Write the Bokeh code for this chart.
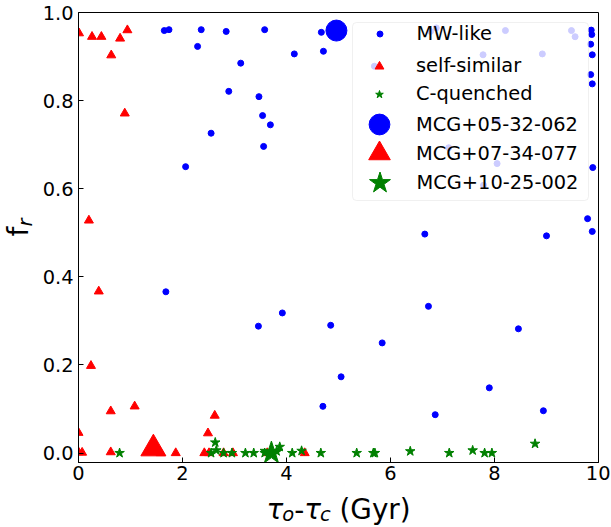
import math
from bokeh.plotting import figure
from bokeh.models import (Range1d, FixedTicker, Legend, LegendItem, BoxAnnotation, Label,
                          PrintfTickFormatter)
from bokeh.layouts import row, column
from bokeh.embed import file_html
from bokeh.resources import INLINE

# ---- data ----
mw_x = [1.65, 1.74, 2.36, 2.84, 3.58, 4.67, 2.29, 3.12, 4.15, 4.71, 2.89, 3.47, 3.54, 3.69, 2.55, 3.56, 2.06,
        9.86, 9.87, 9.85, 9.88, 9.85, 9.88, 9.89, 9.79, 9.88, 6.66, 9.00,
        6.77, 6.88, 8.21, 9.48, 9.55, 7.78, 8.92, 5.69, 8.05, 7.12, 8.05, 7.79,
        1.68, 3.46, 3.92, 4.85, 5.05, 4.70, 6.73, 5.84, 8.46, 7.90, 6.86, 8.94]
mw_y = [0.959, 0.961, 0.961, 0.957, 0.961, 0.955, 0.923, 0.885, 0.906, 0.912, 0.821, 0.809, 0.766, 0.745, 0.726, 0.696, 0.650,
        0.960, 0.950, 0.928, 0.904, 0.859, 0.838, 0.648, 0.532, 0.503, 0.497, 0.493,
        0.957, 0.965, 0.959, 0.959, 0.945, 0.904, 0.906, 0.878, 0.754, 0.693, 0.657, 0.608,
        0.366, 0.288, 0.318, 0.290, 0.173, 0.106, 0.333, 0.250, 0.282, 0.148, 0.087, 0.096]

ss_x = [0.01, 0.26, 0.44, 0.80, 0.94, 0.63, 0.89, 0.20, 0.39, 0.24, 1.08, 0.62, 2.62, 2.49, 0.00,
        0.00, 0.07, 0.62, 1.58, 1.87, 2.42, 2.51, 2.79, 2.97, 3.63, 4.35]
ss_y = [0.953, 0.945, 0.945, 0.941, 0.960, 0.903, 0.771, 0.528, 0.367, 0.198, 0.106, 0.095, 0.085, 0.045, 0.046,
        0.002, 0.001, 0.002, 0.0, 0.0, 0.0, 0.0, 0.0, 0.0, 0.0, 0.0]

cq_x = [0.79, 2.55, 2.63, 2.65, 2.79, 2.95, 3.21, 3.37, 3.58, 3.81, 3.87, 4.11, 4.29, 4.66,
        5.35, 5.67, 5.70, 6.38, 7.13, 7.58, 7.81, 7.95, 8.78]
cq_y = [0.0, 0.0, 0.024, 0.006, 0.0, 0.0, 0.0, 0.0, 0.0, 0.004, 0.014, 0.0, 0.005, 0.0,
        0.0, 0.0, 0.0, 0.004, 0.0, 0.006, 0.0, 0.0, 0.021]

gal_names = ["MCG+05-32-062", "MCG+07-34-077", "MCG+10-25-002"]
gal_x = [4.96, 1.44, 3.71]
gal_y = [0.959, 0.010, 0.0]

series_names = ["MW-like", "self-similar", "C-quenched"]
x_ticks = [0, 2, 4, 6, 8, 10]
y_ticks = [0.0, 0.2, 0.4, 0.6, 0.8, 1.0]

FONT = "DejaVu Sans"
FS = "19.4px"
BIG = "27.8px"
SUB = "19.5px"

YLAB_W = 38
MAIN_W = 572      # 40 + 520 + 12
MAIN_H = 488      # 12 + 450 + 26
FH = 450          # frame height

p = figure(width=MAIN_W, height=MAIN_H, output_backend="svg", toolbar_location=None,
           x_range=Range1d(0, 10), y_range=Range1d(-0.0215, 1.0),
           min_border_left=40, min_border_right=12, min_border_top=12, min_border_bottom=26)
p.xgrid.visible = False
p.ygrid.visible = False
p.outline_line_color = "black"
p.outline_line_width = 1

for ax, ticks, standoff in ((p.xaxis[0], x_ticks, 3), (p.yaxis[0], y_ticks, 5)):
    ax.ticker = FixedTicker(ticks=ticks)
    ax.major_tick_in = 5
    ax.major_tick_out = 0
    ax.minor_tick_in = 0
    ax.minor_tick_out = 0
    ax.major_label_standoff = standoff
    ax.major_label_text_font = FONT
    ax.major_label_text_font_size = FS
    ax.major_label_text_color = "black"
    ax.axis_line_color = "black"
    ax.major_tick_line_color = "black"
p.yaxis[0].formatter = PrintfTickFormatter(format="%.1f")

r_mw = p.scatter(mw_x, mw_y, marker="circle", size=6, color="blue")
r_ss = p.scatter(ss_x, ss_y, marker="triangle", size=9, color="red")
r_cq = p.scatter(cq_x, cq_y, marker="star", size=10, color="green")
r_g1 = p.scatter([gal_x[0]], [gal_y[0]], marker="circle", size=21, color="blue")
r_g2 = p.scatter([gal_x[1]], [gal_y[1]], marker="triangle", size=25, color="red")
r_g3 = p.scatter([gal_x[2]], [gal_y[2]], marker="star", size=24, color="green")

# legend box
box = BoxAnnotation(left=274, right=510, top=FH - 10, bottom=FH - 188,
                    left_units="screen", right_units="screen", top_units="screen", bottom_units="screen",
                    fill_color="white", fill_alpha=0.8, line_color="#cccccc", line_width=1, border_radius=4)
p.add_layout(box)

entries = [(series_names[0], r_mw, 15), (series_names[1], r_ss, 22), (series_names[2], r_cq, 20),
           (gal_names[0], r_g1, 52), (gal_names[1], r_g2, 54), (gal_names[2], r_g3, 55)]
for i, (name, rend, g) in enumerate(entries):
    cy = FH - (25 + 29 * i)
    leg = Legend(items=[LegendItem(label=name, renderers=[rend])],
                 location=(301 - g / 2, cy - g / 2),
                 glyph_width=g, glyph_height=g, label_height=g, label_standoff=int(round(37 - g / 2)),
                 padding=0, margin=0, spacing=0,
                 background_fill_alpha=0, border_line_alpha=0,
                 label_text_font=FONT, label_text_font_size=FS, label_text_color="black")
    p.add_layout(leg)


def blank(w, h):
    f = figure(width=w, height=h, output_backend="svg", toolbar_location=None,
               x_range=Range1d(0, w), y_range=Range1d(0, h), min_border=0)
    f.axis.visible = False
    f.grid.visible = False
    f.outline_line_color = None
    return f


def lab(f, text, x, y, size, style="normal", angle=0.0):
    f.add_layout(Label(text=text, x=x, y=y, text_font=FONT, text_font_size=size,
                       text_font_style=style, text_align="left", text_baseline="alphabetic",
                       angle=angle, text_color="black"))


# y axis label: f_r
yfig = blank(YLAB_W, MAIN_H)
lab(yfig, "f", 18, MAIN_H - 243, BIG, "normal", math.pi / 2)
lab(yfig, "r", 25, MAIN_H - 232, SUB, "italic", math.pi / 2)

# x axis label: tau_o - tau_c (Gyr)
XH = 37
xfig = blank(YLAB_W + MAIN_W, XH)
base = 16.5
subb = 11
lab(xfig, "τ", 266, base, BIG, "italic")
lab(xfig, "o", 281.8, subb, SUB, "italic")
lab(xfig, "-", 293.7, base, BIG)
lab(xfig, "τ", 303.7, base, BIG, "italic")
lab(xfig, "c", 319.5, subb, SUB, "italic")
lab(xfig, "(Gyr)", 339, base, BIG)

layout = column(row(yfig, p), xfig)
open("out.html", "w").write(file_html(layout, INLINE))
